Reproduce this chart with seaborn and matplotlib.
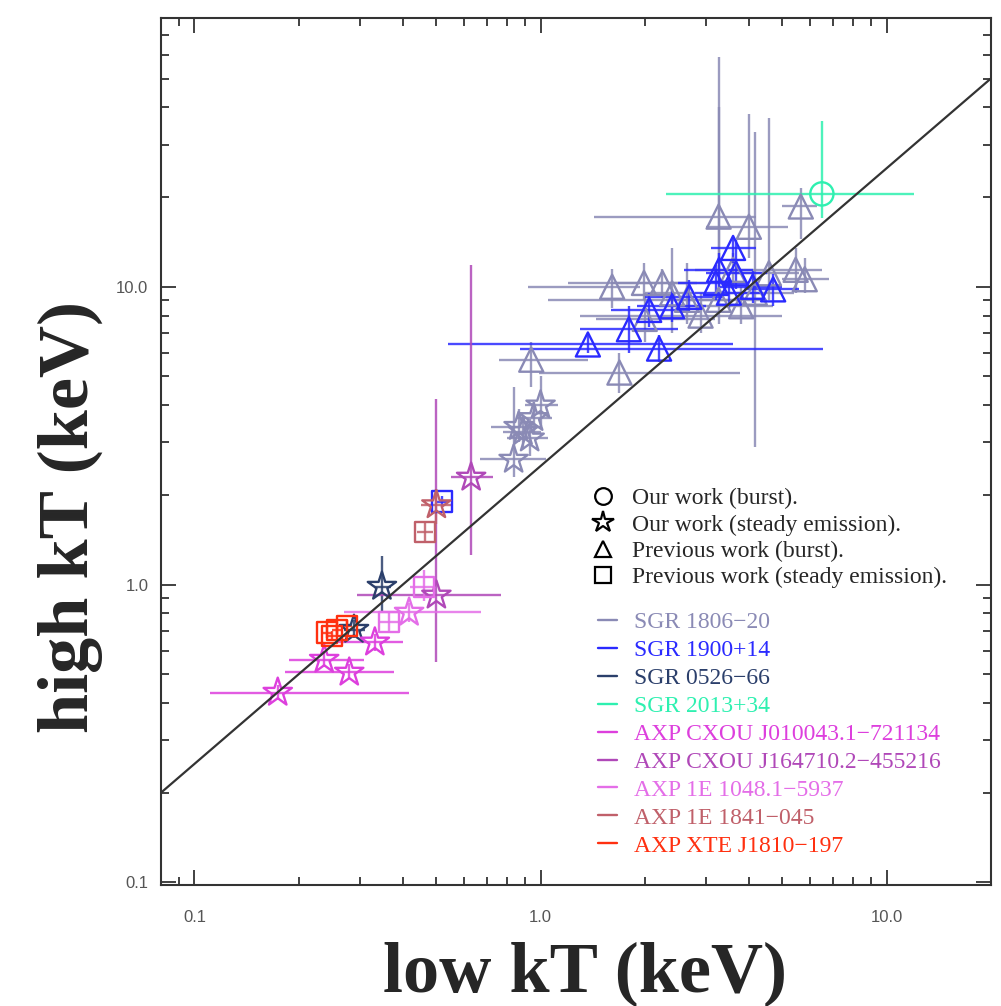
import numpy as np
import pandas as pd
import matplotlib
matplotlib.use("Agg")
import matplotlib.pyplot as plt
import seaborn as sns
from matplotlib.lines import Line2D
from matplotlib.ticker import FixedLocator, FixedFormatter, LogLocator, NullFormatter

sns.set_style("ticks")
plt.rcParams['font.family'] = ['Liberation Serif', 'DejaVu Serif']

# ---------------- data ----------------
sources = ["SGR 1806\u221220", "SGR 1900+14", "SGR 0526\u221266", "SGR 2013+34",
           "AXP CXOU J010043.1\u2212721134", "AXP CXOU J164710.2\u2212455216",
           "AXP 1E 1048.1\u22125937", "AXP 1E 1841\u2212045", "AXP XTE J1810\u2212197"]
source_colors = ["#8a8ab5", "#2a2aff", "#2b3f6b", "#2ef0b0",
                 "#dd3fdd", "#b048b8", "#e46ee8", "#c0606a", "#ff3010"]

kinds = ["Our work (burst).", "Our work (steady emission).",
         "Previous work (burst).", "Previous work (steady emission)."]

# one entry per point: source index, kind index, low kT (keV) with range, high kT (keV) with range
src = [0]*14 + [0]*5 + [0]*6 + [1]*13 + [1] + [2]*2 + [3] + [4]*4 + [5]*2 + [6]*3 + [7]*2 + [8]*4
kind = ([2]*14 + [2]*5 + [1]*6 + [2]*13 + [3] + [1]*2 + [0] + [1]*4 + [1]*2
        + [1, 3, 3] + [3, 1] + [3]*4)
kx = [3.27, 5.65, 5.46, 4.0, 1.61, 1.99, 2.25, 1.69, 0.94, 2.65, 3.6, 4.57, 4.16, 3.27,
      2.0, 2.9, 3.8, 5.8, 2.4,
      0.836, 0.864, 0.955, 1.0, 0.89, 0.93,
      1.37, 2.2, 1.8, 2.06, 2.69, 3.21, 3.28, 3.67, 4.1, 4.7, 3.5, 3.6, 2.4,
      0.52,
      0.348, 0.289,
      6.5,
      0.174, 0.28, 0.237, 0.332,
      0.63, 0.50,
      0.417, 0.365, 0.46,
      0.463, 0.50,
      0.241, 0.258, 0.276, 0.25]
kx_lo = [1.43, 5.0, 4.6, 3.0, 0.92, 1.2, 1.6, 0.99, 0.76, 1.05, 2.8, 3.6, 3.2, 2.3,
         1.45, 1.3, 2.2, 5.0, 2.0,
         0.667, 0.72, 0.85, 0.9, 0.78, 0.8,
         0.54, 0.87, 1.3, 1.6, 2.0, 2.5, 2.6, 3.0, 3.3, 3.9, 2.8, 3.1, 1.9,
         0.50,
         0.33, 0.27,
         2.3,
         0.111, 0.183, 0.188, 0.26,
         0.55, 0.295,
         0.27, 0.34, 0.42,
         0.44, 0.45,
         0.235, 0.25, 0.268, 0.243]
kx_hi = [4.2, 6.3, 6.5, 5.2, 1.94, 2.83, 3.0, 3.77, 1.37, 3.6, 4.6, 5.6, 5.4, 4.5,
         3.2, 5.0, 4.7, 6.8, 2.8,
         1.04, 1.0, 1.08, 1.12, 1.0, 1.05,
         3.6, 6.55, 2.5, 2.7, 3.4, 4.0, 4.1, 4.5, 5.0, 5.6, 4.3, 4.2, 3.0,
         0.54,
         0.37, 0.31,
         12.0,
         0.417, 0.377, 0.309, 0.40,
         0.73, 0.77,
         0.675, 0.39, 0.50,
         0.49, 0.56,
         0.25, 0.267, 0.285, 0.258]
ky = [17.2, 18.6, 11.4, 15.9, 10.0, 10.3, 10.3, 5.15, 5.69, 9.04, 11.4, 11.1, 9.55, 9.04,
      7.8, 8.0, 8.6, 10.6, 9.5,
      2.63, 3.39, 3.63, 4.0, 3.26, 3.1,
      6.4, 6.2, 7.2, 8.36, 9.25, 10.3, 11.4, 11.1, 10.0, 9.8, 9.55, 13.5, 8.6,
      1.9,
      0.985, 0.706,
      20.5,
      0.434, 0.507, 0.56, 0.64,
      2.29, 0.92,
      0.806, 0.75, 0.98,
      1.5, 1.85,
      0.69, 0.706, 0.728, 0.67]
ky_lo = [11.0, 14.5, 9.5, 12.5, 8.5, 9.0, 9.2, 4.4, 4.6, 7.5, 9.8, 9.0, 2.9, 7.5,
         6.5, 7.0, 7.5, 9.5, 7.0,
         2.3, 3.0, 3.2, 3.4, 2.9, 2.7,
         6.0, 5.6, 6.0, 7.3, 8.2, 9.0, 10.0, 9.8, 8.8, 8.6, 8.5, 12.0, 7.6,
         1.82,
         0.80, 0.66,
         17.0,
         0.41, 0.48, 0.53, 0.60,
         1.26, 0.55,
         0.75, 0.70, 0.88,
         1.38, 1.6,
         0.66, 0.68, 0.70, 0.65]
ky_hi = [59.0, 21.5, 13.5, 38.0, 11.5, 12.0, 11.5, 6.0, 6.5, 12.0, 13.0, 37.0, 33.0, 40.0,
         9.5, 9.5, 10.0, 12.5, 13.5,
         4.6, 3.9, 4.1, 5.0, 3.7, 3.6,
         6.9, 6.9, 8.6, 9.5, 10.5, 11.8, 13.0, 14.4, 11.3, 11.0, 10.8, 14.6, 9.8,
         1.98,
         1.25, 0.76,
         36.0,
         0.46, 0.54, 0.60, 0.68,
         11.8, 4.2,
         0.87, 0.80, 1.12,
         1.64, 2.1,
         0.72, 0.735, 0.76, 0.70]

# reference relation drawn across the plot: high kT = 2.5 x low kT
line_x = np.array([0.08, 20.0])
line_ratio = 2.5

x_ticks = [0.1, 1.0, 10.0]
x_ticklabels = ["0.1", "1.0", "10.0"]
y_ticks = [0.1, 1.0, 10.0]
y_ticklabels = ["0.1", "1.0", "10.0"]

df = pd.DataFrame(dict(source=[sources[i] for i in src], kind=[kinds[k] for k in kind],
                       x=kx, xlo=kx_lo, xhi=kx_hi, y=ky, ylo=ky_lo, yhi=ky_hi))

markers = {kinds[0]: "o", kinds[1]: "*", kinds[2]: "^", kinds[3]: "s"}
msizes = {kinds[0]: 280, kinds[1]: 460, kinds[2]: 300, kinds[3]: 210}
palette = dict(zip(sources, source_colors))

# ---------------- figure ----------------
fig = plt.figure(figsize=(10.01, 10.06), dpi=100)
ax = fig.add_axes([0.1608, 0.1203, 0.829, 0.862])
ax.set_xscale("log")
ax.set_yscale("log")

for s in sources:
    sub = df[df.source == s]
    if sub.empty:
        continue
    col = palette[s]
    ax.errorbar(sub.x, sub.y,
                xerr=[sub.x - sub.xlo, sub.xhi - sub.x],
                yerr=[sub.y - sub.ylo, sub.yhi - sub.y],
                fmt="none", ecolor=col, elinewidth=1.7, capsize=0, alpha=0.85, zorder=2)

for s in sources:
    for k in kinds:
        sub = df[(df.source == s) & (df.kind == k)]
        if sub.empty:
            continue
        sns.scatterplot(data=sub, x="x", y="y", marker=markers[k], s=msizes[k],
                        facecolors="none", edgecolor=palette[s], linewidth=1.7,
                        ax=ax, legend=False, zorder=3)

ax.plot(line_x, line_ratio * line_x, color="#333333", lw=1.6, zorder=4)

ax.set_xlim(0.08, 20)
ax.set_ylim(0.098, 80)

ax.xaxis.set_major_locator(FixedLocator(x_ticks))
ax.xaxis.set_major_formatter(FixedFormatter(x_ticklabels))
ax.yaxis.set_major_locator(FixedLocator(y_ticks))
ax.yaxis.set_major_formatter(FixedFormatter(y_ticklabels))
for a in (ax.xaxis, ax.yaxis):
    a.set_minor_locator(LogLocator(base=10, subs=np.arange(2, 10), numticks=20))
    a.set_minor_formatter(NullFormatter())

ax.tick_params(which="both", direction="in", top=True, right=True, color="#333333", width=1.3)
ax.tick_params(which="major", length=11)
ax.tick_params(which="minor", length=6)
ax.tick_params(axis="x", which="major", pad=18, labelsize=12, labelcolor="#555555")
ax.tick_params(axis="y", which="major", pad=9, labelsize=12, labelcolor="#555555")
for lab in ax.get_xticklabels() + ax.get_yticklabels():
    lab.set_fontfamily("Liberation Sans")
for sp in ax.spines.values():
    sp.set_linewidth(1.5)
    sp.set_color("#333333")

ax.set_xlabel("low kT (keV)", fontsize=52, fontweight="bold")
ax.set_ylabel("high kT (keV)", fontsize=52, fontweight="bold")
ax.xaxis.set_label_coords(0.511, -0.065)
ax.yaxis.set_label_coords(-0.07, 0.424)

# legends
sym_handles = [Line2D([], [], ls="none", marker=markers[k], mfc="none", mec="black",
                      mew=1.6, ms=(12 if k != kinds[1] else 16)) for k in kinds]
leg1 = ax.legend(sym_handles, kinds, loc="upper left", bbox_to_anchor=(0.517, 0.458),
                 frameon=False, fontsize=17, handlelength=1.1, handletextpad=0.68,
                 labelspacing=0.2, borderpad=0, borderaxespad=0)
ax.add_artist(leg1)

src_handles = [Line2D([], [], color=c, lw=1.7) for c in source_colors]
leg2 = ax.legend(src_handles, sources, loc="upper left", bbox_to_anchor=(0.5265, 0.315),
                 frameon=False, fontsize=17, handlelength=0.8, handletextpad=0.72,
                 labelspacing=0.27, borderpad=0, borderaxespad=0)
for t, c in zip(leg2.get_texts(), source_colors):
    t.set_color(c)

fig.savefig("out.png", dpi=100, facecolor="white")
